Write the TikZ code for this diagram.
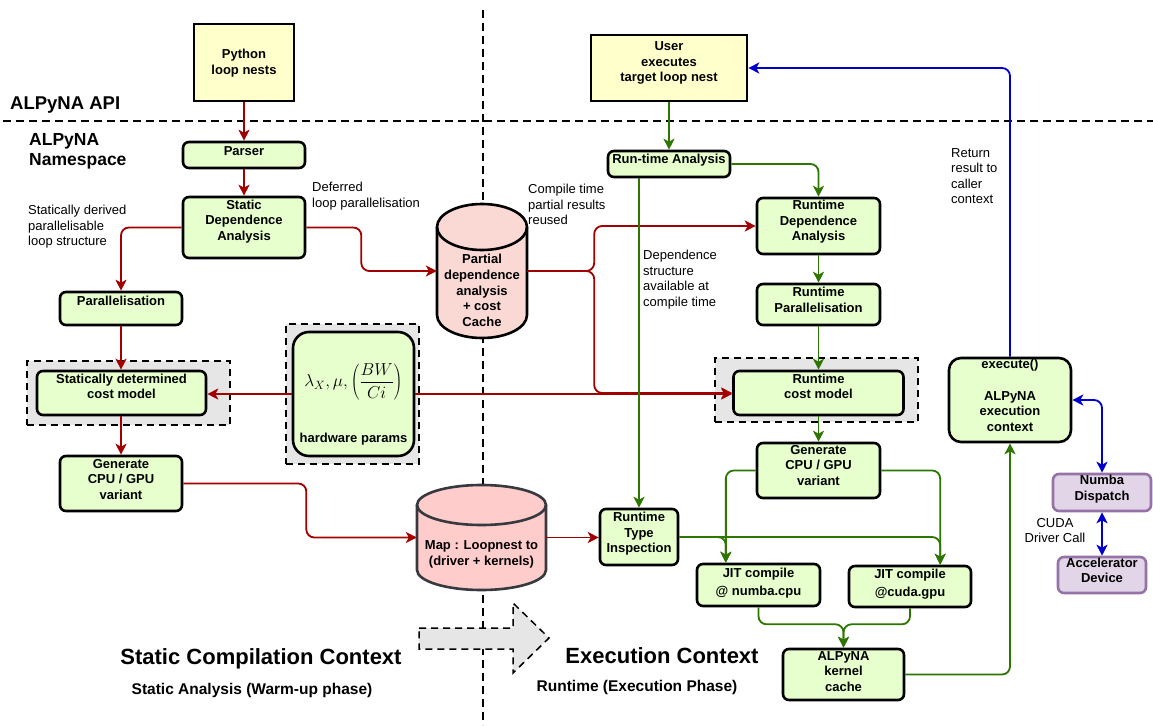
\documentclass[tikz,border=0pt]{standalone}
\usepackage{fontspec}
\setmainfont{Liberation Sans}
\usetikzlibrary{arrows.meta,calc}
\definecolor{cred}{HTML}{A20000}
\definecolor{cgreen}{HTML}{2D7600}
\definecolor{cblue}{HTML}{0000CC}
\definecolor{gfill}{HTML}{E6FFCC}
\definecolor{yfill}{HTML}{FFFFCC}
\definecolor{pfill}{HTML}{FAD9D5}
\definecolor{mfill}{HTML}{FFCCCC}
\definecolor{mdraw}{HTML}{36393D}
\definecolor{grayc}{HTML}{E6E6E6}
\definecolor{purfill}{HTML}{E1D5E7}
\definecolor{purdraw}{HTML}{9673A6}
\newcommand{\tb}[2][0pt]{\raisebox{#1}[\height][\depth]{\begin{tabular}{@{}c@{}}#2\end{tabular}}}
\tikzset{
  box/.style={draw=black, line width=2.6pt, rounded corners=6pt, fill=gfill, inner sep=0pt,
    font=\fontsize{13}{15.6}\selectfont\bfseries},
  ybox/.style={box, fill=yfill, sharp corners},
  pbox/.style={box, fill=purfill, draw=purdraw},
  cont/.style={draw=black, fill=grayc, dash pattern=on 7pt off 5pt, line width=1.8pt, inner sep=0pt},
  sepline/.style={draw=black, line width=2pt, dash pattern=on 8pt off 5pt},
  ann/.style={font=\fontsize{13}{15.6}\selectfont, inner sep=0pt, anchor=base west},
  lbl/.style={font=\fontsize{13}{15.6}\selectfont\bfseries, inner sep=0pt},
  tip/.tip={Stealth[length=11pt,width=11pt,inset=3pt]},
  rarr/.style={draw=cred, line width=1.8pt, rounded corners=8pt, -tip},
  garr/.style={draw=cgreen, line width=1.8pt, rounded corners=8pt, -tip},
  barr/.style={draw=cblue, line width=1.8pt, rounded corners=8pt, -tip},
  bbarr/.style={draw=cblue, line width=1.8pt, rounded corners=8pt, tip-tip},
}
\begin{document}
\begin{tikzpicture}[x=1pt,y=-1pt]
\useasboundingbox (0,0) rectangle (1153,725);
\fill[white] (0,0) rectangle (1153,725);

% separators
\draw[sepline] (3,121) -- (1153,121);
\draw[sepline] (483,10) -- (483,725);

% titles
\node[font=\fontsize{18.5}{22}\selectfont\bfseries, inner sep=0pt, anchor=base west] (api) at (10,109.5) {ALPyNA API};
\node[font=\fontsize{17.5}{20}\selectfont\bfseries, inner sep=0pt, anchor=base west] (ns) at (29,145.7) {\begin{tabular}[t]{@{}l@{}}ALPyNA\\Namespace\end{tabular}};
\node[font=\fontsize{22}{26}\selectfont\bfseries, inner sep=0pt, anchor=base] (sct) at (261,664) {Static Compilation Context};
\node[font=\fontsize{15.5}{18}\selectfont\bfseries, inner sep=0pt, anchor=base] (sat) at (252,694.5) {Static Analysis (Warm-up phase)};
\node[font=\fontsize{22}{26}\selectfont\bfseries, inner sep=0pt, anchor=base] (ect) at (662,663.5) {Execution Context};
\node[font=\fontsize{15.5}{18}\selectfont\bfseries, inner sep=0pt, anchor=base] (ret) at (637,691.5) {Runtime (Execution Phase)};

% big dashed arrow
\draw[fill=grayc, draw=black, line width=1.5pt, dash pattern=on 7pt off 5pt]
  (419,628) -- (513,628) -- (513,603) -- (549,638) -- (513,673) -- (513,649) -- (419,649) -- cycle;

% containers
\node[cont, minimum width=203pt, minimum height=64pt] (scmc) at (128.5,393) {};
\node[cont, minimum width=203pt, minimum height=64pt] (rcmc) at (816.5,390) {};
\node[cont, minimum width=133pt, minimum height=140pt] (hwc) at (352.5,394) {};

% cylinders
\path[fill=pfill] (437,227) -- (437,315) arc[start angle=180,end angle=360,x radius=45pt,y radius=23pt] -- (527,227) arc[start angle=0,end angle=180,x radius=45pt,y radius=23pt] -- cycle;
\draw[line width=2.6pt] (437,227) -- (437,315) arc[start angle=180,end angle=360,x radius=45pt,y radius=23pt] -- (527,227);
\draw[line width=2.6pt] (482,227) ellipse [x radius=45pt, y radius=23pt];
\node[lbl, minimum width=90pt, minimum height=134pt] (pdc) at (482,271) {\tb[-21pt]{Partial\\dependence\\analysis\\+ cost\\Cache}};

\path[fill=mfill] (417,505) -- (417,570) arc[start angle=180,end angle=360,x radius=64.5pt,y radius=20pt] -- (546,505) arc[start angle=0,end angle=180,x radius=64.5pt,y radius=20pt] -- cycle;
\draw[draw=mdraw, line width=2.6pt] (417,505) -- (417,570) arc[start angle=180,end angle=360,x radius=64.5pt,y radius=20pt] -- (546,505);
\draw[draw=mdraw, line width=2.6pt] (481.5,505) ellipse [x radius=64.5pt, y radius=20pt];
\node[lbl, minimum width=129pt, minimum height=105pt] (map) at (481.5,537.5) {\tb[-17pt]{Map : Loopnest to\\(driver + kernels)}};

% boxes
\node[ybox, minimum width=100pt, minimum height=77pt] (python) at (244,62.5) {\tb[-1pt]{Python\\loop nests}};
\node[box, minimum width=122pt, minimum height=26pt] (parser) at (244,155) {\tb[3pt]{Parser}};
\node[box, minimum width=122pt, minimum height=61pt] (sda) at (244,227.5) {\tb[6pt]{Static\\Dependence\\Analysis}};
\node[box, minimum width=122pt, minimum height=33pt] (par) at (121,308.5) {\tb[6pt]{Parallelisation}};
\node[box, minimum width=169pt, minimum height=44pt] (scm) at (121.5,393) {\tb[5pt]{Statically determined\\cost model}};
\node[box, minimum width=122pt, minimum height=55pt] (genl) at (121,483.5) {\tb[3pt]{Generate\\CPU / GPU\\variant}};
\node[box, rounded corners=16pt, minimum width=121pt, minimum height=124pt] (hw) at (353.5,394) {\raisebox{12pt}[\height][\depth]{\fontsize{18}{21}\selectfont$\displaystyle\lambda_X, \mu, \left(\frac{BW}{Ci}\right)$}};
\node[lbl] (hwl) at (353.5,439) {hardware params};

\node[ybox, minimum width=156pt, minimum height=66pt] (user) at (669,68) {\tb[5pt]{User\\executes\\target loop nest}};
\node[box, minimum width=122pt, minimum height=26pt] (rta) at (669,164) {\tb[4pt]{Run-time Analysis}};
\node[box, minimum width=123pt, minimum height=56pt] (rda) at (818.5,226) {\tb[4pt]{Runtime\\Dependence\\Analysis}};
\node[box, minimum width=123pt, minimum height=41pt] (rpar) at (818.5,304.5) {\tb[3pt]{Runtime\\Parallelisation}};
\node[box, minimum width=170pt, minimum height=44pt] (rcm) at (818.5,393) {\tb[5pt]{Runtime\\cost model}};
\node[box, minimum width=123pt, minimum height=55pt] (genr) at (818.5,470.5) {\tb[4pt]{Generate\\CPU / GPU\\variant}};
\node[box, minimum width=78pt, minimum height=56pt] (rti) at (639,537) {\tb[3pt]{Runtime\\Type\\Inspection}};
\node[box, minimum width=123pt, minimum height=42pt] (jcpu) at (758.5,585) {\tb[2pt]{JIT compile\\[2.5pt]@ numba.cpu}};
\node[box, minimum width=122pt, minimum height=41pt] (jgpu) at (910,586.5) {\tb[2pt]{JIT compile\\[2.5pt]@cuda.gpu}};
\node[box, minimum width=121pt, minimum height=51pt] (kc) at (843.5,674.5) {\tb[2pt]{ALPyNA\\kernel\\cache}};
\node[box, rounded corners=12pt, minimum width=122pt, minimum height=84pt] (exec) at (1010,400) {\tb[3pt]{execute()\\ \\ALPyNA\\execution\\context}};
\node[pbox, minimum width=98pt, minimum height=37pt] (nd) at (1102,492.5) {\tb[3pt]{Numba\\Dispatch}};
\node[pbox, minimum width=88pt, minimum height=36pt] (acc) at (1102,575) {\tb[3pt]{Accelerator\\Device}};

% annotations
\node[ann] (a1) at (28,214.5) {\begin{tabular}[t]{@{}l@{}}Statically derived\\parallelisable\\loop structure\end{tabular}};
\node[ann] (a2) at (312,191.5) {\begin{tabular}[t]{@{}l@{}}Deferred\\loop parallelisation\end{tabular}};
\node[ann] (a3) at (528,193.5) {\begin{tabular}[t]{@{}l@{}}Compile time\\partial results\\reused\end{tabular}};
\node[ann] (a4) at (643,259.5) {\begin{tabular}[t]{@{}l@{}}Dependence\\structure\\available at\\compile time\end{tabular}};
\node[ann] (a5) at (951,157) {\begin{tabular}[t]{@{}l@{}}Return\\result to\\caller\\context\end{tabular}};
\node[ann, anchor=base] (a6) at (1055,527) {\begin{tabular}[t]{@{}c@{}}CUDA\\Driver Call\end{tabular}};

% red connectors
\draw[rarr] (python.south) -- (parser.north);
\draw[rarr] (parser.south) -- (sda.north);
\draw[rarr] (sda.west) -| (par.north);
\draw[rarr] (sda.east) -- ++(55,0) |- (pdc.west);
\draw[rarr] (pdc.east) -- ++(67,0) |- (rda.west);
\draw[rarr] (pdc.east) -- ++(67,0) |- (rcm.west);
\draw[rarr] (par.south) -- (par.south |- scm.north);
\draw[rarr] (hw.west) -- (hw.west -| scm.east);
\draw[rarr] (hw.east) -- (hw.east -| rcm.west);
\draw[rarr] (genl.north |- scm.south) -- (genl.north);
\draw[rarr] (genl.east) -- ++(123,0) |- (map.west);
\draw[rarr] (map.east) -- (map.east -| rti.west);

% green connectors
\coordinate (jcpuin) at ($(jcpu.north west)!0.24!(jcpu.north east)$);
\coordinate (jgpuin) at ($(jgpu.north west)!0.742!(jgpu.north east)$);
\draw[garr] (user.south) -- (rta.north);
\draw[garr] (rta.east) -| (rda.north);
\draw[garr] (rti.north |- rta.south) -- (rti.north);
\draw[garr] (rda.south) -- (rpar.north);
\draw[garr] (rpar.south) -- (rcm.north);
\draw[garr] (rcm.south) -- (genr.north);
\draw[garr] (genr.west) -| (jcpuin);
\draw[garr] (genr.east) -| (jgpuin);
\draw[garr] (rti.east) -| (jcpuin);
\draw[garr] (rti.east) -| (jgpuin);
\draw[garr] (jcpu.south) -- ++(0,17) -| (kc.north);
\draw[garr] (jgpu.south) -- ++(0,16) -| (kc.north);
\draw[garr] (kc.east) -| (exec.south);

% blue connectors
\draw[barr] (exec.north) |- (user.east);
\draw[bbarr] (exec.east) -| (nd.north);
\draw[bbarr] (nd.south) -- (acc.north);
\end{tikzpicture}
\end{document}
